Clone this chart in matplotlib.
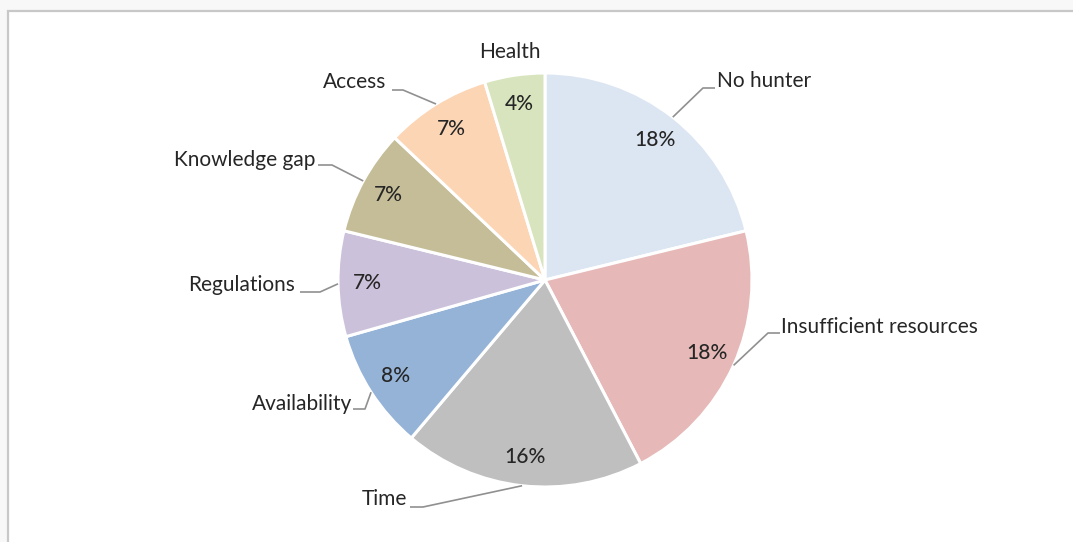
import numpy as np
import matplotlib
matplotlib.use("Agg")
import matplotlib.pyplot as plt
from matplotlib.patches import Rectangle

# Reasons given (percent of respondents)
categories = ["No hunter", "Insufficient resources", "Time", "Availability",
              "Regulations", "Knowledge gap", "Access", "Health"]
values = [18, 18, 16, 8, 7, 7, 7, 4]
colors = ["#dce6f2", "#e6b9b8", "#bfbfbf", "#95b3d7",
          "#ccc1da", "#c4bd97", "#fcd5b5", "#d7e4bd"]

W, H = 1073, 542
fig = plt.figure(figsize=(W / 100, H / 100), dpi=100, facecolor="#f8f8f8")
ax = fig.add_axes([0, 0, 1, 1])


def py(y):
    """Convert a top-down pixel row to the upward y axis."""
    return H - y


# chart area frame
ax.add_patch(Rectangle((8, py(560)), 1100, 560 - 11, facecolor="white",
                       edgecolor="#c8c8c8", linewidth=1.6, zorder=0))

cx, cy, r = 545, py(280), 207
wedges, _ = ax.pie(values, colors=colors, startangle=90, counterclock=False,
                   radius=r, center=(cx, cy), frame=True,
                   wedgeprops=dict(edgecolor="white", linewidth=2.2))
ax.set_xlim(0, W)
ax.set_ylim(0, H)
ax.set_aspect("equal")
ax.axis("off")

font = "Lato"
txt_color = "#262626"
line_color = "#909090"
fs = 15

# value labels inside each slice
for w, v in zip(wedges, values):
    mid = np.deg2rad((w.theta1 + w.theta2) / 2)
    ax.text(cx + 0.86 * r * np.cos(mid), cy + 0.86 * r * np.sin(mid),
            f"{v}%", ha="center", va="center", fontsize=fs,
            family=font, color=txt_color, fontweight="medium")

# category label placement: text anchor, alignment, leader end, elbow
label_pos = {
    "No hunter": ((717, 81), "left", (715, 88), (703, 88)),
    "Insufficient resources": ((781, 327), "left", (780, 333), (768, 333)),
    "Time": ((407, 499), "right", (410, 507), (423, 507)),
    "Availability": ((352, 404), "right", (353, 409), (365, 409)),
    "Regulations": ((295, 285), "right", (300, 292), (320, 292)),
    "Knowledge gap": ((315, 160), "right", (318, 165), (332, 165)),
    "Access": ((386, 82), "right", (392, 90), (403, 90)),
    "Health": ((510, 52), "center", None, None),
}

for w, name in zip(wedges, categories):
    (tx, ty), ha, end, elbow = label_pos[name]
    ax.text(tx, py(ty), name, ha=ha, va="center", fontsize=fs,
            family=font, color=txt_color)
    if end is not None:
        mid = np.deg2rad((w.theta1 + w.theta2) / 2)
        sx, sy = cx + r * np.cos(mid), cy + r * np.sin(mid)
        ax.plot([sx, elbow[0], end[0]], [sy, py(elbow[1]), py(end[1])],
                color=line_color, linewidth=1.2, solid_capstyle="butt")

fig.savefig("out.png", dpi=100, facecolor=fig.get_facecolor())
